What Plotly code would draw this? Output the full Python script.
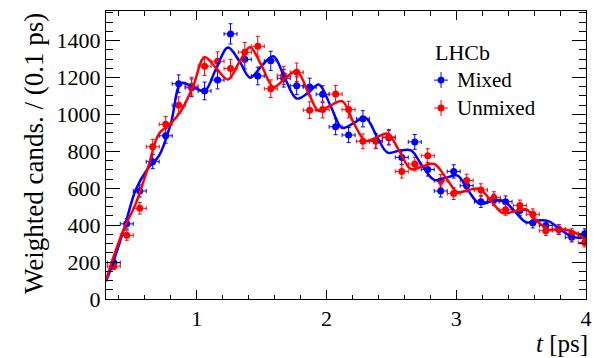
import plotly.graph_objects as go

# Decay-time bins (ps) and weighted candidates per 0.1 ps
t_bins = [0.36, 0.46, 0.56, 0.66, 0.76, 0.86, 0.96, 1.06, 1.16, 1.26, 1.37, 1.47, 1.57,
          1.67, 1.77, 1.87, 1.97, 2.07, 2.17, 2.28, 2.38, 2.48, 2.58, 2.68, 2.78, 2.88,
          2.98, 3.08, 3.19, 3.29, 3.38, 3.49, 3.59, 3.69, 3.79, 3.89, 3.99]
t_halfwidth = [0.05] * len(t_bins)

mixed = [197, 407, 585, 744, 884, 1166, 1144, 1127, 1186, 1436, 1298, 1208, 1290,
         1196, 1155, 1148, 1109, 933, 888, 976, 857, 874, 767, 851, 702, 585,
         691, 614, 527, 537, 527, 480, 413, 398, 376, 334, 354]
mixed_err = [20, 28, 33, 38, 40, 48, 48, 48, 48, 55, 52, 48, 52, 48, 48, 48, 46, 43, 41,
             44, 40, 40, 38, 40, 36, 33, 36, 34, 31, 31, 31, 29, 28, 27, 26, 25, 26]

unmixed = [178, 345, 491, 825, 946, 1049, 1153, 1261, 1288, 1248, 1337, 1369, 1139,
           1211, 1228, 1023, 1026, 1110, 1026, 854, 854, 878, 691, 731, 776, 640,
           571, 642, 591, 549, 484, 506, 459, 370, 378, 355, 306]
unmixed_err = [19, 27, 31, 40, 43, 46, 48, 50, 51, 50, 53, 54, 48, 49, 50, 45, 45, 47, 45,
               40, 40, 40, 36, 37, 38, 34, 32, 34, 33, 32, 30, 30, 29, 26, 26, 25, 24]

# Fit projections sampled along t
t_fit = [0.30, 0.35, 0.44, 0.53, 0.62, 0.71, 0.80, 0.88, 0.97, 1.06, 1.15, 1.24, 1.33,
         1.41, 1.50, 1.59, 1.68, 1.77, 1.86, 1.94, 2.03, 2.12, 2.21, 2.30, 2.39, 2.47,
         2.56, 2.65, 2.74, 2.83, 2.92, 3.01, 3.09, 3.18, 3.27, 3.36, 3.45, 3.54, 3.62,
         3.71, 3.80, 3.89, 3.98, 4.00]
fit_mixed = [96, 188, 383, 593, 704, 778, 951, 1169, 1149, 1127, 1250, 1362, 1286,
             1199, 1263, 1315, 1194, 1086, 1118, 1162, 1048, 927, 953, 982, 877, 793,
             803, 805, 719, 645, 657, 668, 590, 515, 529, 533, 475, 415, 425,
             422, 378, 339, 331, 336]
fit_unmixed = [101, 212, 383, 518, 704, 897, 951, 1021, 1149, 1309, 1250, 1189, 1286,
               1364, 1263, 1149, 1194, 1234, 1118, 1019, 1048, 1072, 953, 857, 877, 895,
               803, 704, 719, 731, 657, 579, 590, 596, 529, 465, 475, 485, 425,
               376, 378, 368, 331, 318]

BLUE = "#0000ff"
RED = "#ff0000"
SERIF = "Liberation Serif"

fig = go.Figure()

for y, err, col in [(mixed, mixed_err, BLUE), (unmixed, unmixed_err, RED)]:
    fig.add_trace(go.Scatter(
        x=t_bins, y=y, mode="markers",
        marker=dict(color=col, size=7),
        error_y=dict(type="data", array=err, color=col, thickness=1, width=2),
        error_x=dict(type="data", array=t_halfwidth, color=col, thickness=1, width=2),
        showlegend=False, cliponaxis=True,
    ))

for y, col in [(fit_mixed, BLUE), (fit_unmixed, RED)]:
    fig.add_trace(go.Scatter(
        x=t_fit, y=y, mode="lines",
        line=dict(color=col, width=2.5, shape="spline", smoothing=1.0),
        showlegend=False,
    ))

axis_common = dict(
    showline=True, linecolor="black", linewidth=1, mirror="allticks",
    ticks="inside", tickcolor="black", showgrid=False, zeroline=False,
    tickfont=dict(family=SERIF, size=22, color="black"),
)

fig.update_xaxes(range=[0.3, 4.0], tickvals=[1, 2, 3, 4], ticklen=9,
                 minor=dict(ticks="inside", dtick=0.2, tick0=0, ticklen=4.5,
                            tickcolor="black", showgrid=False),
                 **axis_common)
fig.update_yaxes(range=[0, 1560], dtick=200, ticklen=14,
                 minor=dict(ticks="inside", dtick=50, ticklen=7,
                            tickcolor="black", showgrid=False),
                 **axis_common)

annotations = [
    dict(text="<i>t</i> [ps]", xref="paper", yref="paper", x=1.0, y=-0.204,
         xanchor="right", yanchor="bottom", xshift=3, showarrow=False,
         borderpad=0, font=dict(family=SERIF, size=25, color="black")),
    dict(text="Weighted cands. / (0.1 ps)", xref="paper", yref="paper",
         x=-0.151, y=1.0, xanchor="center", yanchor="top", textangle=-90,
         showarrow=False, font=dict(family=SERIF, size=27, color="black")),
    dict(text="LHCb", xref="paper", yref="paper", x=0.681, y=0.857,
         xanchor="left", yanchor="middle", showarrow=False,
         font=dict(family=SERIF, size=22, color="black")),
    dict(text="Mixed", xref="paper", yref="paper", x=0.727, y=0.760,
         xanchor="left", yanchor="middle", showarrow=False,
         font=dict(family=SERIF, size=21, color="black")),
    dict(text="Unmixed", xref="paper", yref="paper", x=0.727, y=0.663,
         xanchor="left", yanchor="middle", showarrow=False,
         font=dict(family=SERIF, size=21, color="black")),
]

# Legend keys: point with error cross
shapes = []
pw, ph = 483.0, 289.0
for yc, col in [(0.760, BLUE), (0.663, RED)]:
    xc = 0.698
    dx, dy = 7 / pw, 8 / ph
    shapes.append(dict(type="line", xref="paper", yref="paper",
                       x0=xc - dx, x1=xc + dx, y0=yc, y1=yc,
                       line=dict(color=col, width=1)))
    shapes.append(dict(type="line", xref="paper", yref="paper",
                       x0=xc, x1=xc, y0=yc - dy, y1=yc + dy,
                       line=dict(color=col, width=1)))
    rx, ry = 3.5 / pw, 3.5 / ph
    shapes.append(dict(type="circle", xref="paper", yref="paper",
                       x0=xc - rx, x1=xc + rx, y0=yc - ry, y1=yc + ry,
                       fillcolor=col, line=dict(color=col, width=0)))

fig.update_layout(
    width=602, height=358,
    margin=dict(l=106, r=13, t=10, b=59),
    paper_bgcolor="white", plot_bgcolor="white",
    font=dict(family=SERIF),
    annotations=annotations, shapes=shapes,
    showlegend=False,
)

fig.write_html("out.html")
